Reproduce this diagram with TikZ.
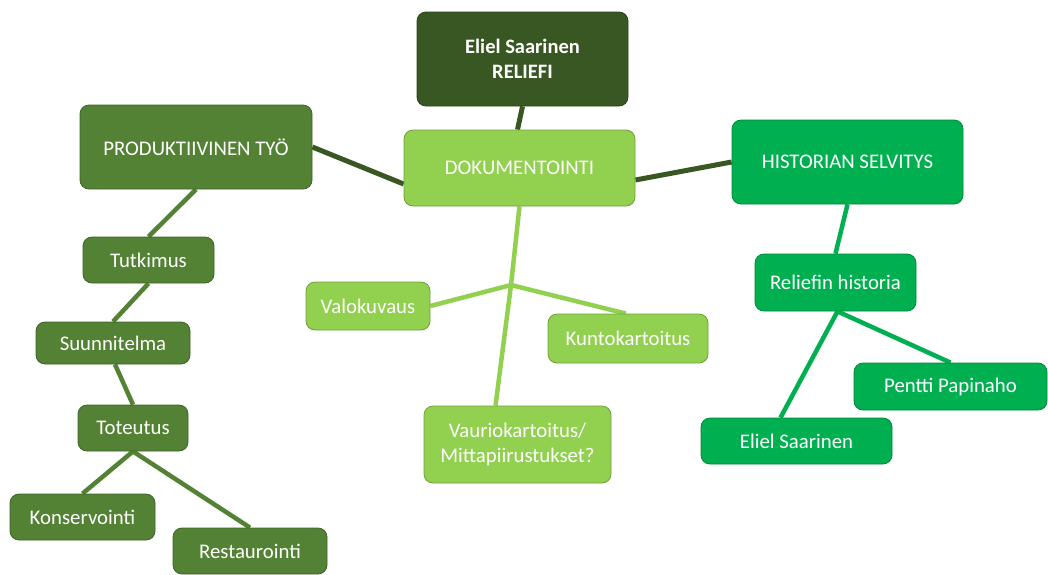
\documentclass[tikz,border=0pt]{standalone}
\usepackage{fontspec}
\setmainfont{Carlito}
\usetikzlibrary{backgrounds}
\definecolor{cdark}{HTML}{385723}
\definecolor{cdarkb}{HTML}{2A4219}
\definecolor{cprod}{HTML}{548235}
\definecolor{cprodb}{HTML}{3F6227}
\definecolor{clight}{HTML}{92D050}
\definecolor{clightb}{HTML}{6E9E3C}
\definecolor{chist}{HTML}{00B050}
\definecolor{chistb}{HTML}{00843C}
\tikzset{
  box/.style={rounded corners=9pt, text=white, font=\fontsize{20.8}{25}\selectfont, align=center, inner sep=0pt, line width=0.8pt},
  boxdark/.style={box, fill=cdark, draw=cdarkb, font=\fontsize{20.5}{25}\selectfont\bfseries},
  boxprod/.style={box, fill=cprod, draw=cprodb},
  boxlight/.style={box, fill=clight, draw=clightb},
  boxhist/.style={box, fill=chist, draw=chistb},
  lndark/.style={draw=cdark, line width=5pt},
  lnprod/.style={draw=cprod, line width=4.5pt},
  lnlight/.style={draw=clight, line width=4.5pt},
  lnhist/.style={draw=chist, line width=4.5pt},
}
\begin{document}
\begin{tikzpicture}[x=1pt,y=-1pt]
\useasboundingbox (0,0) rectangle (1048,574);
% nodes
\node[boxdark, minimum width=211pt, minimum height=94pt] (rel) at (522.5,59) {Eliel Saarinen\\RELIEFI};
\node[boxlight, minimum width=231pt, minimum height=76pt] (dok) at (519.5,168) {DOKUMENTOINTI};
\node[boxprod, minimum width=232pt, minimum height=84pt] (prod) at (196,147) {PRODUKTIIVINEN TYÖ};
\node[boxhist, minimum width=231pt, minimum height=84pt] (hist) at (847.5,162) {HISTORIAN SELVITYS};
\node[boxprod, minimum width=131pt, minimum height=46pt] (tut) at (148.5,260) {Tutkimus};
\node[boxprod, minimum width=154pt, minimum height=42pt] (suu) at (113,343) {Suunnitelma};
\node[boxprod, minimum width=110pt, minimum height=46pt] (tot) at (133,428) {Toteutus};
\node[boxprod, minimum width=145pt, minimum height=46pt] (kon) at (82.5,517) {Konservointi};
\node[boxprod, minimum width=154pt, minimum height=46pt] (res) at (250,551) {Restaurointi};
\node[boxlight, minimum width=124pt, minimum height=48pt] (val) at (368,306) {Valokuvaus};
\node[boxlight, minimum width=160pt, minimum height=49pt] (kun) at (628,338.5) {Kuntokartoitus};
\node[boxlight, minimum width=187pt, minimum height=77pt] (vau) at (517.5,444.5) {Vauriokartoitus/\\Mittapiirustukset?};
\node[boxhist, minimum width=161pt, minimum height=57pt] (rh) at (835.5,282.5) {Reliefin historia};
\node[boxhist, minimum width=193pt, minimum height=47pt] (pen) at (950.5,386.5) {Pentti Papinaho};
\node[boxhist, minimum width=191pt, minimum height=46pt] (eli) at (796.5,441) {Eliel Saarinen};
\coordinate (j) at (511,285);
% connectors
\begin{scope}[on background layer]
\draw[lndark] (rel.south) -- ([xshift=-2pt]dok.north);
\draw[lndark] (prod.east) -- ([yshift=-16pt]dok.west);
\draw[lndark] ([yshift=-12pt]dok.east) -- (hist.west);
\draw[lnprod] (prod.south) -- (tut.north);
\draw[lnprod] (tut.south) -- (suu.north);
\draw[lnprod] ([xshift=2pt]suu.south) -- (tot.north);
\draw[lnprod] (tot.south) -- (kon.north);
\draw[lnprod] (tot.south) -- (res.north);
\draw[lnlight] (dok.south) -- (j) -- ([xshift=-22pt]vau.north);
\draw[lnlight] (val.east) -- (j) -- ([xshift=-2pt]kun.north);
\draw[lnhist] (hist.south) -- (rh.north);
\draw[lnhist] ([xshift=2pt]rh.south) -- (pen.north);
\draw[lnhist] ([xshift=2pt]rh.south) -- ([xshift=-16pt]eli.north);
\end{scope}
\end{tikzpicture}
\end{document}
